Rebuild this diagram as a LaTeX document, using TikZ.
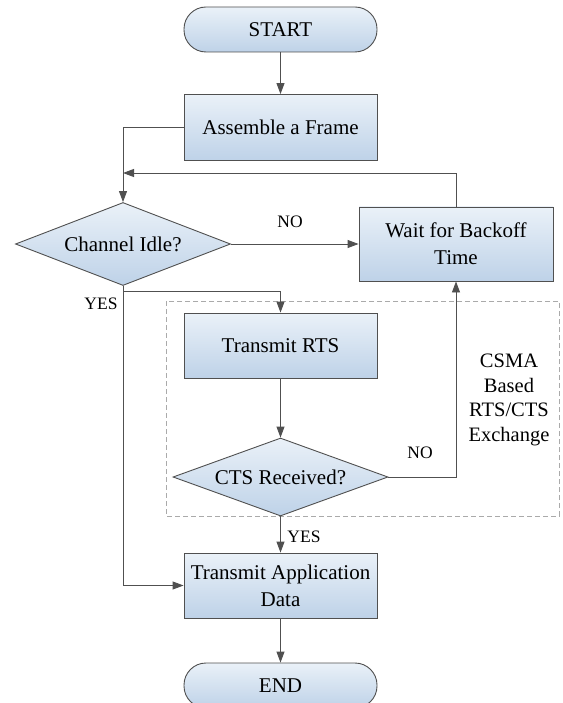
\documentclass[tikz,border=0pt]{standalone}
\usepackage{fontspec}
\setmainfont{Liberation Serif}
\usetikzlibrary{shapes.geometric,arrows.meta}
\definecolor{edge}{RGB}{80,80,80}
\definecolor{ftop}{RGB}{234,241,248}
\definecolor{fbot}{RGB}{190,210,232}
\definecolor{dashgray}{RGB}{170,170,170}
\begin{document}
\begin{tikzpicture}[x=1pt,y=-1pt,
  box/.style={draw=edge, line width=0.9pt, top color=ftop, bottom color=fbot,
    minimum width=193pt, inner sep=0pt, font=\fontsize{21}{27}\selectfont, align=center},
  term/.style={box, rounded corners=22pt, minimum height=45pt},
  proc/.style={box},
  dec/.style={box, diamond, aspect=2.6, minimum width=215pt},
  conn/.style={draw=edge, line width=0.9pt, -{Triangle[length=11pt,width=8pt]}},
  lbl/.style={font=\fontsize{17.5}{20}\selectfont, inner sep=0pt}
]
\useasboundingbox (0,0) rectangle (562,703);
\fill[white] (0,0) rectangle (562,703);

% dashed group
\draw[dashgray, line width=0.7pt, dash pattern=on 5pt off 3pt] (166,301) rectangle (559,516);

\node[term] (start) at (280.5,29.5) {START};
\node[proc, minimum height=66pt] (assemble) at (280.5,127.5) {Assemble a Frame};
\node[dec, minimum height=83pt] (idle) at (123,244) {Channel Idle?};
\node[proc, minimum width=194pt, minimum height=74pt] (wait) at (456,244) {Wait for Backoff\\Time};
\node[proc, minimum height=65pt] (rts) at (280.5,345.5) {Transmit RTS};
\node[dec, minimum height=78pt] (cts) at (280.5,477) {CTS Received?};
\node[proc, minimum height=65pt] (data) at (280.5,585.5) {Transmit Application\\Data};
\node[term] (end) at (280.5,685.5) {END};

\node[font=\fontsize{20.5}{24.5}\selectfont, align=center, inner sep=0pt] (csma) at (509,400) {CSMA\\Based\\RTS/CTS\\Exchange};

\coordinate (fb) at (123,173);
\coordinate (ysplit) at (123,291);

\draw[conn] (start) -- (assemble);
\draw[conn] (assemble.west) -| (idle.north);
\draw[conn] (wait.north) |- (fb);
\draw[conn] (idle.east) -- (wait.west);
\draw[conn] (idle.south) |- (data.west);
\draw[conn] (ysplit) -| (rts.north);
\draw[conn] (rts) -- (cts);
\draw[conn] (cts.east) -| (wait.south);
\draw[conn] (cts.south) -- (data.north);
\draw[conn] (data) -- (end);

\node[lbl] (no1) at (290,222) {NO};
\node[lbl] (no2) at (420,453) {NO};
\node[lbl] (yes1) at (101,304) {YES};
\node[lbl] (yes2) at (304,537) {YES};
\end{tikzpicture}
\end{document}
